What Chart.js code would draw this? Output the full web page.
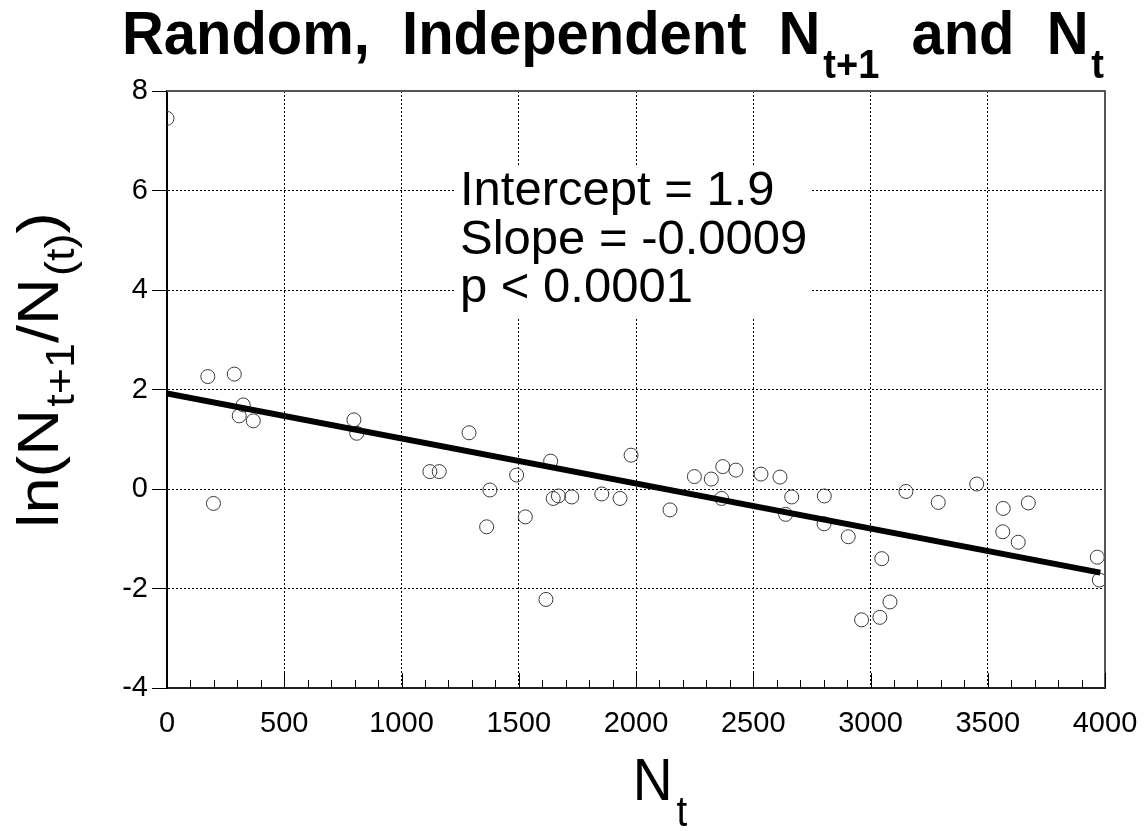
<!DOCTYPE html>
<html><head><meta charset="utf-8">
<script src="https://cdn.jsdelivr.net/npm/chart.js@4/dist/chart.umd.min.js"></script>
<style>html,body{margin:0;padding:0;background:#fff;overflow:hidden}#wrap{width:1148px;height:831px}</style>
</head><body><div id="wrap"><canvas id="c" width="1148" height="831"></canvas></div>
<script>
// ---- data ----
const nt = [0,174,287,325,308,368,198,797,809,1288,1121,1161,1377,1363,1491,1528,1616,1636,1647,1669,1726,1854,1932,1979,2145,2249,2321,2370,2365,2426,2533,2614,2638,2664,2803,2802,2905,3048,3151,3289,3453,3566,3673,3564,3630,3967,3976,3083,2962,3040];
const lnRatio = [7.45,2.26,2.31,1.69,1.47,1.37,-0.29,1.39,1.12,1.13,0.35,0.35,-0.02,-0.76,0.28,-0.56,-2.22,0.56,-0.19,-0.14,-0.16,-0.10,-0.19,0.68,-0.42,0.25,0.20,0.45,-0.19,0.38,0.30,0.24,-0.51,-0.16,-0.14,-0.70,-0.96,-1.40,-0.05,-0.27,0.10,-0.39,-0.28,-0.86,-1.07,-1.37,-1.83,-2.27,-2.63,-2.58];
const fitX = [0, 3980];
const fitY = [1.92, -1.68];
const xTicks = [0,500,1000,1500,2000,2500,3000,3500,4000];
const yTicks = [-4,-2,0,2,4,6,8];
const xMinorStep = 100;
const statsLines = ['Intercept = 1.9','Slope = -0.0009','p < 0.0001'];
const titleParts = [['Random,  Independent  N',0],['t+1',1],['  and  N',0],['t',1]];
const yTitleParts = [['ln(N',0],['t+1',1],['/N',0],['(t)',1],[')',0]];
const xTitleParts = [['N',0],['t',1]];

const FONT = '"Liberation Sans", Arial, Helvetica, sans-serif';

function partsWidth(ctx, parts, mainFont, subFont, subGap) {
  let w = 0;
  parts.forEach(([t, s]) => {
    ctx.font = s ? subFont : mainFont;
    if (s) w += subGap;
    w += ctx.measureText(t).width;
  });
  return w;
}
function drawParts(ctx, parts, mainFont, subFont, subGap, subDy) {
  let x = 0;
  parts.forEach(([t, s]) => {
    ctx.font = s ? subFont : mainFont;
    if (s) x += subGap;
    ctx.fillText(t, x, s ? subDy : 0);
    x += ctx.measureText(t).width;
  });
}

const deco = {
  id: 'deco',
  beforeDatasetsDraw(chart) {
    const ctx = chart.ctx;
    ctx.save();
    ctx.fillStyle = '#fff';
    ctx.fillRect(455, 165, 355, 152);
    ctx.fillStyle = '#000';
    ctx.font = '49px ' + FONT;
    ctx.textBaseline = 'alphabetic';
    ctx.textAlign = 'left';
    statsLines.forEach((s, i) => ctx.fillText(s, 460, 205 + i * 48.5));
    ctx.restore();
  },
  afterDraw(chart) {
    const ctx = chart.ctx;
    const xs = chart.scales.x;
    const a = chart.chartArea;
    ctx.save();
    // frame top/right
    ctx.strokeStyle = '#555';
    ctx.lineWidth = 2;
    ctx.beginPath();
    ctx.moveTo(a.left, a.top); ctx.lineTo(a.right, a.top); ctx.lineTo(a.right, a.bottom);
    ctx.stroke();
    // inward x ticks (major + minor)
    ctx.strokeStyle = '#000';
    ctx.lineWidth = 1;
    for (let v = xs.min; v <= xs.max; v += xMinorStep) {
      const px = Math.round(xs.getPixelForValue(v)) + 0.5;
      const major = xTicks.includes(v);
      ctx.beginPath();
      ctx.moveTo(px, a.bottom);
      ctx.lineTo(px, a.bottom - (major ? 15 : 8));
      ctx.stroke();
    }
    ctx.fillStyle = '#000';
    ctx.textBaseline = 'alphabetic';
    ctx.textAlign = 'left';
    // title
    {
      const mf = 'bold 61px ' + FONT, sf = 'bold 40px ' + FONT;
      const w = partsWidth(ctx, titleParts, mf, sf, 3);
      const sx = (1104 - 122) / w;
      ctx.save();
      ctx.translate(122, 54);
      ctx.scale(sx, 1);
      drawParts(ctx, titleParts, mf, sf, 3, 24);
      ctx.restore();
    }
    // y title
    {
      const mf = '58px ' + FONT, sf = '40px ' + FONT;
      const k = 1.12;
      const w = partsWidth(ctx, yTitleParts, mf, sf, 2) * k;
      ctx.save();
      ctx.translate(58, 370);
      ctx.rotate(-Math.PI / 2);
      ctx.translate(-w / 2, 0);
      ctx.scale(k, 1);
      drawParts(ctx, yTitleParts, mf, sf, 2, 16);
      ctx.restore();
    }
    // x title
    {
      const mf = '60px ' + FONT, sf = '42px ' + FONT;
      const sxs = 0.92;
      const w = partsWidth(ctx, xTitleParts, mf, sf, 4) * sxs;
      ctx.save();
      ctx.translate((a.left + a.right) / 2 - w / 2 + 24, 800);
      ctx.scale(sxs, 1);
      drawParts(ctx, xTitleParts, mf, sf, 4, 26);
      ctx.restore();
    }
    ctx.restore();
  }
};

const ctx = document.getElementById('c').getContext('2d');
new Chart(ctx, {
  type: 'scatter',
  data: {
    datasets: [
      {
        label: 'ln ratio',
        data: nt.map((x, i) => ({ x, y: lnRatio[i] })),
        pointRadius: 7, pointHoverRadius: 7,
        borderColor: '#3a3a3a', borderWidth: 1,
        backgroundColor: 'rgba(0,0,0,0)',
        order: 2
      },
      {
        type: 'line',
        label: 'fit',
        data: fitX.map((x, i) => ({ x, y: fitY[i] })),
        borderColor: '#000', borderWidth: 6,
        pointRadius: 0, fill: false, tension: 0,
        borderCapStyle: 'butt',
        order: 1
      }
    ]
  },
  options: {
    responsive: false, devicePixelRatio: 1, animation: false,
    layout: { padding: { top: 91, right: 43, left: 0, bottom: 0 } },
    plugins: { legend: { display: false }, tooltip: { enabled: false }, title: { display: false } },
    scales: {
      x: {
        type: 'linear', min: 0, max: 4000,
        afterBuildTicks: s => { s.ticks = xTicks.map(v => ({ value: v })); },
        afterFit: s => { s.height = 143; s.paddingRight = 0; s.paddingLeft = 0; },
        ticks: { font: { size: 29, family: FONT }, color: '#000', padding: 19, maxRotation: 0, autoSkip: false,
                 callback: v => String(v) },
        grid: {
          color: c => (c.tick && (c.tick.value === 0 || c.tick.value === 4000)) ? 'rgba(0,0,0,0)' : '#000',
          lineWidth: 1, drawTicks: false
        },
        border: { display: true, color: '#222', width: 2, dash: [2, 2] }
      },
      y: {
        type: 'linear', min: -4, max: 8,
        afterBuildTicks: s => { s.ticks = yTicks.map(v => ({ value: v })); },
        afterFit: s => { s.width = 167; s.paddingTop = 0; s.paddingBottom = 0; },
        ticks: { font: { size: 29, family: FONT }, color: '#000', padding: 4, autoSkip: false,
                 callback: v => String(v) },
        grid: {
          color: c => (c.tick && (c.tick.value === -4 || c.tick.value === 8)) ? 'rgba(0,0,0,0)' : '#000',
          lineWidth: 1, drawTicks: true, tickLength: 15, tickColor: '#000', tickWidth: 1
        },
        border: { display: true, color: '#000', width: 2, dash: [2, 2] }
      }
    }
  },
  plugins: [deco]
});
</script>
</body></html>
